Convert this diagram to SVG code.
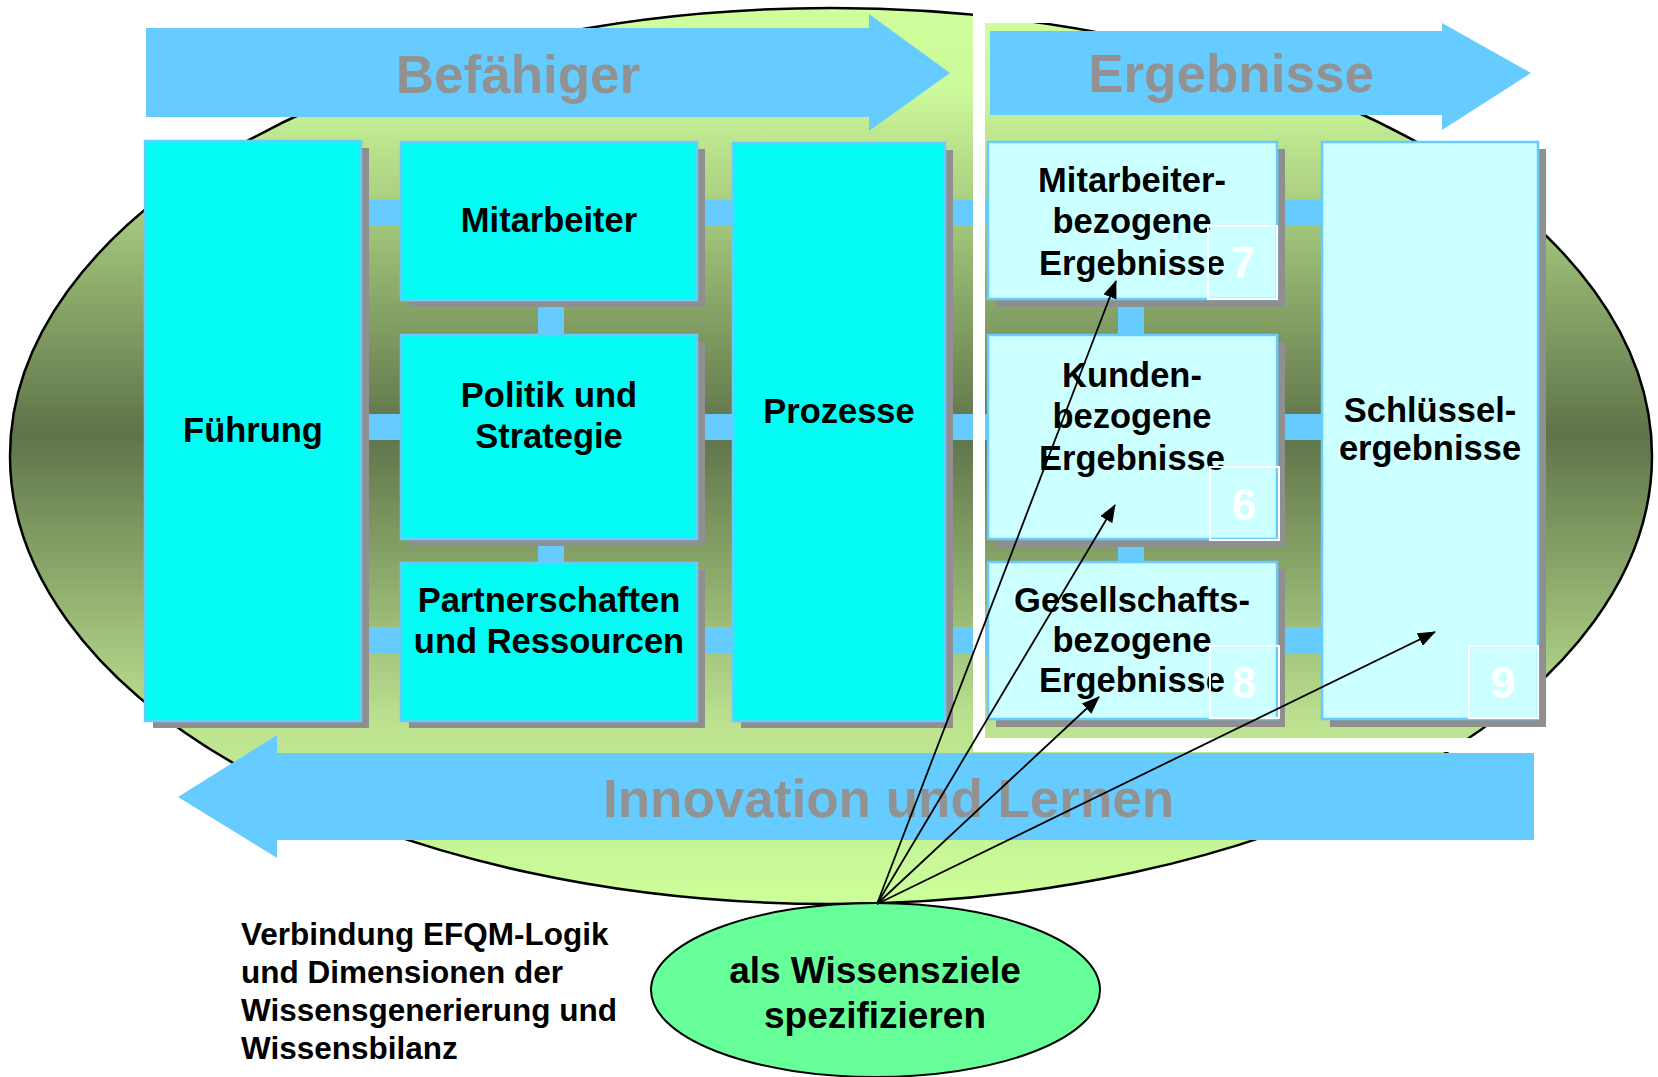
<svg xmlns="http://www.w3.org/2000/svg" width="1658" height="1077" viewBox="0 0 1658 1077">
<style>
.box{fill:#03FCF3;stroke:#66CCFF;stroke-width:2.5}
.rbox{fill:#CCFFFF;stroke:#66CCFF;stroke-width:2.5}
.shadow{fill:#8F8F8F}
.band{fill:#66CCFF}
.lbl{font-family:"Liberation Sans",Arial,sans-serif;font-weight:bold;font-size:34.5px;fill:#000;text-anchor:middle}
.big{font-family:"Liberation Sans",Arial,sans-serif;font-weight:bold;font-size:53px;fill:#929292}
.num{font-family:"Liberation Sans",Arial,sans-serif;font-weight:bold;font-size:44px;fill:#FFFFFF;text-anchor:middle}
.nbox{fill:none;stroke:#FFFFFF;stroke-width:2}
.arrow{fill:#66CCFF}
.conn{stroke:#000;stroke-width:1.8;fill:none;marker-end:url(#ah)}
</style>
<defs>
<linearGradient id="bg" gradientUnits="userSpaceOnUse" x1="0" y1="0" x2="0" y2="904">
<stop offset="0" stop-color="#D0FF9C"/>
<stop offset="0.1" stop-color="#CCF99A"/>
<stop offset="0.48" stop-color="#5F7349"/>
<stop offset="0.8" stop-color="#BCE290"/>
<stop offset="1" stop-color="#CCFF99"/>
</linearGradient>
<marker id="ah" markerUnits="userSpaceOnUse" markerWidth="18" markerHeight="14" refX="17" refY="7" orient="auto">
<path d="M0,0 L18,7 L0,14 z" fill="#000"/>
</marker>
</defs>

<g id="background">
<ellipse cx="831" cy="456" rx="821" ry="448" fill="url(#bg)" stroke="#000" stroke-width="2.5"/>
</g>

<g id="bands">
<rect class="band" x="361" y="200" width="961" height="26"/>
<rect class="band" x="361" y="414" width="961" height="26"/>
<rect class="band" x="361" y="627" width="961" height="26"/>
<rect class="band" x="538" y="296" width="26" height="42"/>
<rect class="band" x="538" y="536" width="26" height="30"/>
<rect class="band" x="1118" y="296" width="26" height="42"/>
<rect class="band" x="1118" y="536" width="26" height="30"/>
</g>

<g id="masks">
<rect x="973" y="0" width="12" height="752" fill="#FFFFFF"/>
<rect x="985" y="0" width="673" height="23" fill="#FFFFFF"/>
<rect x="985" y="738" width="673" height="14" fill="#FFFFFF"/>
</g>

<g id="befaehiger-arrow">
<polygon class="arrow" points="146,28 869,28 869,14 950,73 869,131 869,117 146,117"/>
<text class="big" x="518" y="93" text-anchor="middle">Befähiger</text>
</g>

<g id="ergebnisse-arrow">
<polygon class="arrow" points="990,31 1442,31 1442,23 1531,73 1442,130 1442,115 990,115"/>
<text class="big" x="1231" y="92" text-anchor="middle">Ergebnisse</text>
</g>

<g id="fuehrung">
<rect class="shadow" x="153" y="148" width="216" height="580"/>
<rect class="box" x="145" y="141" width="216" height="580"/>
<text class="lbl" x="253" y="442">Führung</text>
</g>

<g id="mitarbeiter">
<rect class="shadow" x="409" y="149" width="296" height="158"/>
<rect class="box" x="401" y="142" width="296" height="158"/>
<text class="lbl" x="549" y="232">Mitarbeiter</text>
</g>

<g id="politik">
<rect class="shadow" x="409" y="342" width="296" height="204"/>
<rect class="box" x="401" y="335" width="296" height="204"/>
<text class="lbl" x="549" y="407">Politik und</text>
<text class="lbl" x="549" y="448">Strategie</text>
</g>

<g id="partnerschaften">
<rect class="shadow" x="409" y="570" width="296" height="158"/>
<rect class="box" x="401" y="563" width="296" height="158"/>
<text class="lbl" x="549" y="612">Partnerschaften</text>
<text class="lbl" x="549" y="653">und Ressourcen</text>
</g>

<g id="prozesse">
<rect class="shadow" x="741" y="150" width="212" height="578"/>
<rect class="box" x="733" y="143" width="212" height="578"/>
<text class="lbl" x="839" y="423">Prozesse</text>
</g>

<g id="mitarbeiterergebnisse">
<rect class="shadow" x="996" y="149" width="289" height="158"/>
<rect class="rbox" x="988" y="142" width="289" height="157"/>
<text class="lbl" x="1132" y="192">Mitarbeiter-</text>
<text class="lbl" x="1132" y="233">bezogene</text>
<text class="lbl" x="1132" y="275">Ergebnisse</text>
<rect class="nbox" x="1208" y="226" width="69" height="73"/>
<text class="num" x="1243" y="278">7</text>
</g>

<g id="kundenergebnisse">
<rect class="shadow" x="996" y="342" width="289" height="205"/>
<rect class="rbox" x="988" y="335" width="289" height="204"/>
<text class="lbl" x="1132" y="387">Kunden-</text>
<text class="lbl" x="1132" y="428">bezogene</text>
<text class="lbl" x="1132" y="470">Ergebnisse</text>
<rect class="nbox" x="1210" y="467" width="69" height="73"/>
<text class="num" x="1244" y="520">6</text>
</g>

<g id="gesellschaftsergebnisse">
<rect class="shadow" x="996" y="569" width="289" height="158"/>
<rect class="rbox" x="988" y="562" width="289" height="157"/>
<text class="lbl" x="1132" y="612">Gesellschafts-</text>
<text class="lbl" x="1132" y="652">bezogene</text>
<text class="lbl" x="1132" y="692">Ergebnisse</text>
<rect class="nbox" x="1210" y="646" width="69" height="72"/>
<text class="num" x="1244" y="698">8</text>
</g>

<g id="schluesselergebnisse">
<rect class="shadow" x="1330" y="149" width="216" height="578"/>
<rect class="rbox" x="1322" y="142" width="216" height="577"/>
<text class="lbl" x="1430" y="422">Schlüssel-</text>
<text class="lbl" x="1430" y="460">ergebnisse</text>
<rect class="nbox" x="1469" y="646" width="69" height="72"/>
<text class="num" x="1503" y="698">9</text>
</g>

<g id="innovation-arrow">
<polygon class="arrow" points="178,797 277,735 277,753 1534,753 1534,840 277,840 277,858"/>
<text class="big" x="603" y="817">Innovation und Lernen</text>
</g>

<g id="wissensziele">
<ellipse cx="875.5" cy="990" rx="224.5" ry="87" fill="#66FF99" stroke="#000" stroke-width="2"/>
<text class="lbl" x="875" y="983" style="font-size:37px">als Wissensziele</text>
<text class="lbl" x="875" y="1028" style="font-size:37px">spezifizieren</text>
</g>

<g id="note">
<text font-family="'Liberation Sans',Arial,sans-serif" font-weight="bold" font-size="31.5" fill="#000">
<tspan x="241" y="945">Verbindung EFQM-Logik</tspan>
<tspan x="241" y="983">und Dimensionen der</tspan>
<tspan x="241" y="1021">Wissensgenerierung und</tspan>
<tspan x="241" y="1059">Wissensbilanz</tspan>
</text>
</g>

<g id="connectors">
<line class="conn" x1="877" y1="904" x2="1116" y2="281"/>
<line class="conn" x1="877" y1="904" x2="1115" y2="505"/>
<line class="conn" x1="877" y1="904" x2="1099" y2="697"/>
<line class="conn" x1="877" y1="904" x2="1435" y2="632"/>
</g>
</svg>
